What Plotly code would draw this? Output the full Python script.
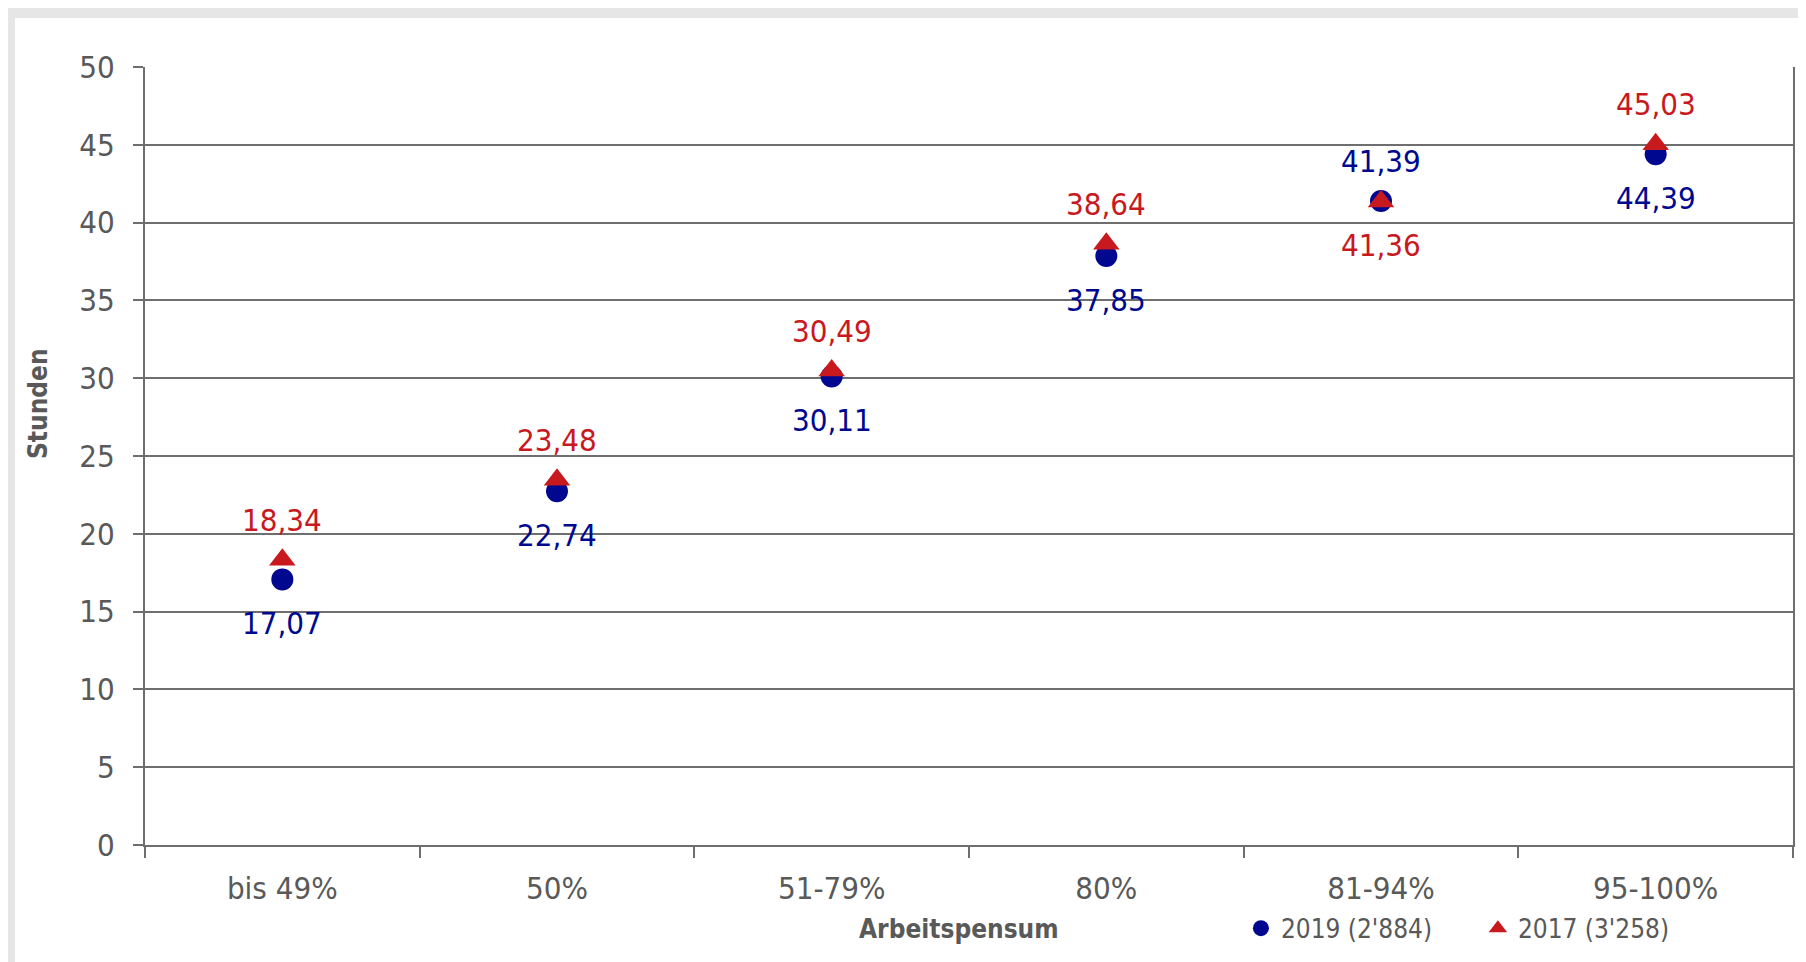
import plotly.graph_objects as go

# ── data ─────────────────────────────────────────────────────────────────────
categories = ["bis 49%", "50%", "51-79%", "80%", "81-94%", "95-100%"]
hours_2019 = [17.07, 22.74, 30.11, 37.85, 41.39, 44.39]
hours_2017 = [18.34, 23.48, 30.49, 38.64, 41.36, 45.03]
above_2019 = [False, False, False, False, True, False]
above_2017 = [True, True, True, True, False, True]
name_2019 = "2019 (2'884)"
name_2017 = "2017 (3'258)"

# ── style ────────────────────────────────────────────────────────────────────
_FONT = "Tahoma, 'DejaVu Sans Condensed', 'Liberation Sans', sans-serif"
_GREY = "#595959"
_LINE = "#6e6e6e"
_NAVY = "#00088f"
_RED = "#c8191e"

fig = go.Figure([
    go.Scatter(
        x=categories, y=hours_2019, name=name_2019, mode="markers",
        marker=dict(symbol="circle", size=22, color=_NAVY),
    ),
    go.Scatter(
        x=categories, y=hours_2017, name=name_2017, mode="markers",
        marker=dict(symbol="triangle-up", size=23, color=_RED),
    ),
])


# value labels (comma decimals), above or below the marker
def _labels(values, above, color):
    return [
        dict(x=c, y=v, text=f"{v:.2f}".replace(".", ","), showarrow=False,
             yshift=40 if up else -44,
             font=dict(size=31, color=color, family=_FONT))
        for c, v, up in zip(categories, values, above)
    ]


annotations = _labels(hours_2019, above_2019, _NAVY) + _labels(hours_2017, above_2017, _RED)
annotations += [
    dict(text="<b>Stunden</b>", textangle=-90, xref="paper", yref="paper",
         x=-0.065, y=0.568, xanchor="center", yanchor="middle", showarrow=False,
         font=dict(size=26, color=_GREY)),
    dict(text="<b>Arbeitspensum</b>", xref="paper", yref="paper",
         x=0.494, y=-0.108, xanchor="center", yanchor="middle", showarrow=False,
         font=dict(size=26, color=_GREY)),
]

fig.update_layout(
    width=1798, height=954,
    paper_bgcolor="#e6e6e6",
    plot_bgcolor="white",
    font=dict(family=_FONT, size=31, color=_GREY),
    margin=dict(l=137, r=13, t=59, b=117, autoexpand=False),
    showlegend=True,
    legend=dict(
        orientation="h", x=0.665, xanchor="left", y=-0.107, yanchor="middle",
        font=dict(size=26, color=_GREY), itemwidth=30,
        entrywidth=192, entrywidthmode="pixels",
        bgcolor="rgba(0,0,0,0)", tracegroupgap=0,
    ),
    xaxis=dict(
        type="category", tickson="boundaries",
        range=[-0.5, len(categories) - 0.5],
        ticks="outside", ticklen=11, tickcolor=_LINE, tickwidth=2,
        ticklabelstandoff=15,
        showline=True, linecolor=_LINE, linewidth=2,
        showgrid=False, zeroline=False,
        tickfont=dict(size=31, color=_GREY),
    ),
    yaxis=dict(
        range=[0, 50], dtick=5,
        ticks="outside", ticklen=10, tickcolor=_LINE, tickwidth=2,
        ticklabelstandoff=12,
        showline=True, linecolor=_LINE, linewidth=2, mirror=True,
        showgrid=True, gridcolor=_LINE, gridwidth=2,
        zeroline=False,
        tickfont=dict(size=31, color=_GREY),
    ),
    shapes=[dict(
        type="rect", xref="paper", yref="paper", layer="below",
        x0=-0.0789, x1=1.03, y0=-0.2, y1=1.063,
        fillcolor="white", line=dict(width=0),
    )],
    annotations=annotations,
)

fig.write_html("out.html")
